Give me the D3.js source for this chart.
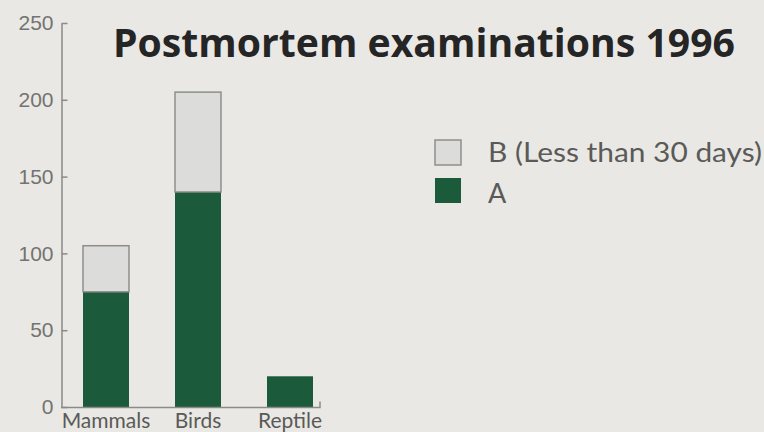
<!DOCTYPE html>
<html>
<head>
<meta charset="utf-8">
<script src="https://cdn.jsdelivr.net/npm/d3@7"></script>
<style>
  html, body { margin: 0; padding: 0; background: #e9e8e4; }
  svg { display: block; }
</style>
</head>
<body>
<svg id="chart" width="764" height="432"></svg>
<script>
const categories = ["Mammals", "Birds", "Reptile"];
const seriesA = [75, 140, 20];
const seriesB = [30, 65, 0];
const yTicks = [0, 50, 100, 150, 200, 250];
const legendLabels = { B: "B (Less than 30 days)", A: "A" };
const titleText = "Postmortem examinations 1996";

const colors = { A: "#1b5a3b", B: "#dcdcda" };

const svg = d3.select("#chart");
svg.append("rect").attr("width", 764).attr("height", 432).attr("fill", "#e9e8e4");

const y = d3.scaleLinear().domain([0, 250]).range([407, 23]);
const x = d3.scaleBand().domain(categories).range([60, 336]).paddingInner(0.5).paddingOuter(0.25);

const rows = categories.map((c, i) => ({ cat: c, A: seriesA[i], B: seriesB[i] }));
const stack = d3.stack().keys(["A", "B"])(rows);

// bars
stack.forEach(layer => {
  svg.append("g").selectAll("rect")
    .data(layer.filter(d => d[1] - d[0] > 0))
    .join("rect")
    .attr("x", d => x(d.data.cat))
    .attr("width", x.bandwidth())
    .attr("y", d => y(d[1]))
    .attr("height", d => y(d[0]) - y(d[1]))
    .attr("fill", colors[layer.key])
    .attr("stroke", layer.key === "B" ? "#8e8e8c" : "none")
    .attr("stroke-width", layer.key === "B" ? 1.5 : 0);
});

// y axis
const yAxis = d3.axisLeft(y).tickValues(yTicks).tickSizeInner(-6).tickSizeOuter(0).tickPadding(8);
const gy = svg.append("g").attr("transform", "translate(61.5,0)").call(yAxis);
gy.select(".domain").attr("stroke", "#8a8a88").attr("stroke-width", 1.5);
gy.selectAll(".tick line").attr("stroke", "#8a8a88").attr("stroke-width", 1.5);
gy.selectAll(".tick text")
  .attr("fill", "#737371")
  .style("font-family", "'Liberation Sans', Arial, sans-serif")
  .style("font-size", "21px");

// x axis
const xAxis = d3.axisBottom(x).tickSize(0).tickPadding(6);
const gx = svg.append("g").attr("transform", "translate(0,407.5)").call(xAxis);
gx.select(".domain").remove();
gx.append("path")
  .attr("d", `M61,0H320V-6`)
  .attr("fill", "none")
  .attr("stroke", "#8a8a88")
  .attr("stroke-width", 1.5);
gx.selectAll(".tick text")
  .attr("fill", "#5a5a58")
  .attr("dy", "0.71em")
  .style("font-family", "Lato, 'Open Sans', sans-serif")
  .style("font-size", "21px");

// title
svg.append("text")
  .attr("x", 113).attr("y", 57)
  .attr("textLength", 622).attr("lengthAdjust", "spacingAndGlyphs")
  .attr("fill", "#252525")
  .style("font-family", "'Open Sans', sans-serif")
  .style("font-weight", "bold")
  .style("font-size", "39px")
  .text(titleText);

// legend
const legendItems = [
  { key: "B", y: 140, ty: 162, len: 274 },
  { key: "A", y: 178, ty: 203, len: null }
];
const lg = svg.append("g");
legendItems.forEach(it => {
  lg.append("rect")
    .attr("x", 435).attr("y", it.y)
    .attr("width", 26).attr("height", 25)
    .attr("fill", colors[it.key])
    .attr("stroke", it.key === "B" ? "#8e8e8c" : "none")
    .attr("stroke-width", 1.5);
  const t = lg.append("text")
    .attr("x", 488).attr("y", it.ty)
    .attr("fill", "#5a5a58")
    .style("font-family", "Lato, 'Open Sans', sans-serif")
    .style("font-size", "27px")
    .text(legendLabels[it.key]);
  if (it.len) t.attr("textLength", it.len).attr("lengthAdjust", "spacingAndGlyphs");
});
</script>
</body>
</html>
